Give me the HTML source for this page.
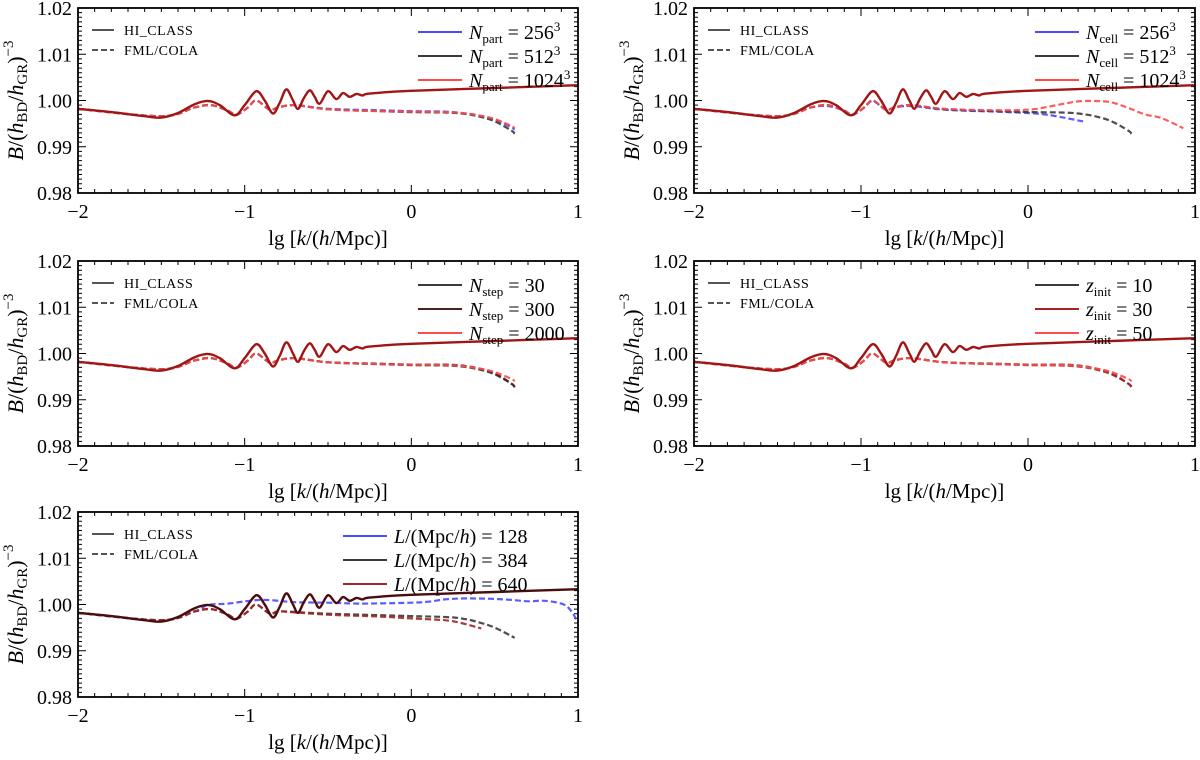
<!DOCTYPE html>
<html><head><meta charset="utf-8"><style>
body{margin:0;background:#fff}
svg text{font-family:"Liberation Serif",serif;fill:#000}
</style></head><body>
<svg id="s" width="1200" height="755" xmlns="http://www.w3.org/2000/svg"></svg>
<script>
const kH=[-2,-1.8,-1.6,-1.5,-1.4,-1.3,-1.22,-1.15,-1.06,-1.0,-0.93,-0.88,-0.83,-0.79,-0.75,-0.71,-0.68,-0.645,-0.61,-0.58,-0.55,-0.5,-0.45,-0.41,-0.37,-0.33,-0.29,-0.25,0,0.5,1];
const vH=[0.9982,0.9975,0.9966,0.9963,0.9973,0.9992,0.9999,0.9990,0.9968,0.9990,1.0020,1.0000,0.9972,0.9995,1.0024,1.0000,0.9982,1.0005,1.0022,1.0008,0.9993,1.0020,1.0003,1.0016,1.0008,1.0014,1.0011,1.0015,1.0021,1.0027,1.0033];
const kD=[-2,-1.5,-1.3,-1.2,-1.1,-1.05,-0.98,-0.93,-0.85,-0.8,-0.7,-0.5,-0.2,0,0.2,0.3,0.4,0.5,0.6,0.62];
const vD=[0.9982,0.9966,0.9985,0.9990,0.9978,0.9969,0.9985,1.0000,0.9980,0.9985,0.9990,0.9981,0.9977,0.9975,0.9974,0.9972,0.9966,0.9955,0.9935,0.9928];
const vD1b=[0.9982,0.9966,0.9985,0.9990,0.9978,0.9969,0.9985,1.0000,0.9980,0.9985,0.9990,0.9982,0.9979,0.9977,0.9976,0.9973,0.9968,0.9959,0.9942,0.9937];
const vD1r=[0.9982,0.9966,0.9985,0.9990,0.9978,0.9969,0.9985,1.0000,0.9980,0.9985,0.9990,0.9981,0.9977,0.9976,0.9975,0.9973,0.9968,0.9960,0.9945,0.9940];
const kB2=[-2,-1.5,-1.3,-1.2,-1.1,-1.05,-0.98,-0.93,-0.85,-0.8,-0.7,-0.5,-0.2,0,0.1,0.2,0.3,0.33];
const vB2=[0.9982,0.9966,0.9985,0.9988,0.9978,0.9969,0.9985,0.9999,0.9980,0.9985,0.9988,0.9980,0.9976,0.9973,0.9970,0.9964,0.9957,0.9955];
const kR2=[-2,-1.5,-1.3,-1.2,-1.1,-1.05,-0.98,-0.93,-0.85,-0.8,-0.7,-0.5,-0.2,0,0.1,0.2,0.3,0.4,0.5,0.6,0.7,0.8,0.93];
const vR2=[0.9982,0.9966,0.9985,0.9990,0.9978,0.9969,0.9985,1.0000,0.9980,0.9985,0.9990,0.9982,0.9979,0.9980,0.9985,0.9992,0.9998,0.9999,0.9996,0.9984,0.9970,0.9962,0.9940];
const vD3b=[0.9982,0.9966,0.9985,0.9990,0.9978,0.9969,0.9985,1.0000,0.9980,0.9985,0.9990,0.9981,0.9978,0.9976,0.9976,0.9974,0.9968,0.9957,0.9935,0.9927];
const kB5=[-2,-1.5,-1.3,-1.22,-1.1,-0.9,-0.7,-0.5,-0.3,0,0.1,0.2,0.3,0.4,0.5,0.6,0.7,0.8,0.9,0.95,1.0];
const vB5=[0.9982,0.9966,0.9985,0.9999,1.0002,1.0010,1.0005,1.0004,1.0002,1.0004,1.0006,1.0011,1.0013,1.0013,1.0012,1.0010,1.0007,1.0008,1.0002,0.9990,0.9962];
const kK5=[-2,-1.5,-1.3,-1.2,-1.1,-1.05,-0.98,-0.93,-0.85,-0.8,-0.7,-0.5,0,0.2,0.3,0.4,0.5,0.62];
const vK5=[0.9982,0.9966,0.9985,0.9990,0.9978,0.9969,0.9985,1.0000,0.9980,0.9985,0.9984,0.9980,0.9975,0.9973,0.9970,0.9962,0.9950,0.9928];
const kR5=[-2,-1.5,-1.3,-1.2,-1.1,-1.05,-0.98,-0.93,-0.85,-0.8,-0.7,-0.5,-0.2,0,0.2,0.3,0.42];
const vR5=[0.9982,0.9966,0.9985,0.9990,0.9978,0.9969,0.9985,1.0000,0.9980,0.9985,0.9983,0.9978,0.9974,0.9970,0.9966,0.9960,0.9948];
const xTicks=[-2,-1,0,1], xTickLabels=["\u22122","\u22121","0","1"];
const yTicks=[0.98,0.99,1.00,1.01,1.02], yTickLabels=["0.98","0.99","1.00","1.01","1.02"];
const BLUE="#4b4bff",BLK="#3a3a3a",RED="#ff4b4b",DRED="#a52525";
const panels=[
 {x0:78,x1:578,y0:8,y1:193,sym:"N",sub:"part",labs:["= 256","= 512","= 1024"],sup:true,cols:[BLUE,BLK,RED],hc:"#a01515",
  ser:[[kD,vD1b,BLUE],[kD,vD,BLK],[kD,vD1r,RED]]},
 {x0:694,x1:1195,y0:8,y1:193,sym:"N",sub:"cell",labs:["= 256","= 512","= 1024"],sup:true,cols:[BLUE,BLK,RED],hc:"#a01515",
  ser:[[kB2,vB2,BLUE],[kD,vD,BLK],[kR2,vR2,RED]]},
 {x0:78,x1:578,y0:261,y1:446,sym:"N",sub:"step",labs:["= 30","= 300","= 2000"],cols:[BLK,"#4a2020",RED],hc:"#a01515",
  ser:[[kD,vD,BLK],[kD,vD3b,"#4a2020"],[kD,vD1r,RED]]},
 {x0:694,x1:1195,y0:261,y1:446,sym:"z",sub:"init",labs:["= 10","= 30","= 50"],cols:[BLK,DRED,RED],hc:"#a01515",
  ser:[[kD,vD3b,BLK],[kD,vD,DRED],[kD,vD1r,RED]]},
 {x0:78,x1:578,y0:512,y1:697,sym:"L",sub:"",labs:["= 128","= 384","= 640"],cols:[BLUE,BLK,DRED],hc:"#4a0c0c",L:true,
  ser:[[kB5,vB5,BLUE],[kK5,vK5,BLK],[kR5,vR5,DRED]]}
];
const S=document.getElementById('s'),NS="http://www.w3.org/2000/svg";
function mk(t,a,p){const e=document.createElementNS(NS,t);for(const k in a)e.setAttribute(k,a[k]);(p||S).appendChild(e);return e;}
function path(pts){let d="M"+pts[0][0].toFixed(1)+","+pts[0][1].toFixed(1);
 for(let i=0;i<pts.length-1;i++){const p0=pts[Math.max(0,i-1)],p1=pts[i],p2=pts[i+1],p3=pts[Math.min(pts.length-1,i+2)];
  d+=" C"+(p1[0]+(p2[0]-p0[0])/6).toFixed(1)+","+(p1[1]+(p2[1]-p0[1])/6).toFixed(1)+" "+(p2[0]-(p3[0]-p1[0])/6).toFixed(1)+","+(p2[1]-(p3[1]-p1[1])/6).toFixed(1)+" "+p2[0].toFixed(1)+","+p2[1].toFixed(1);}
 return d;}
panels.forEach((P,pi)=>{
 const g=mk('g',{});
 
 
 const X=v=>P.x0+(v+2)/3*(P.x1-P.x0), Y=v=>P.y1-(v-0.98)/0.04*(P.y1-P.y0);
 let d="";
 for(let i=0;i<=30;i++){const v=-2+i*0.1,x=X(v),L=(i%10==0)?8:4;d+=`M${x},${P.y1}v${-L}M${x},${P.y0}v${L}`;}
 for(let i=0;i<=40;i++){const v=0.98+i*0.001,y=Y(v),L=(i%10==0)?8:4;d+=`M${P.x0},${y}h${L}M${P.x1},${y}h${-L}`;}
 const tk=mk('path',{d:d,stroke:"#000","stroke-width":1,fill:"none"},g);
 
 
 xTicks.forEach((v,i)=>{const t=mk('text',{x:X(v),y:P.y1+25,"text-anchor":"middle","font-size":20},g);t.textContent=xTickLabels[i];
  
  });
 yTicks.forEach((v,i)=>{const t=mk('text',{x:P.x0-6,y:Y(v)+7,"text-anchor":"end","font-size":20},g);t.textContent=yTickLabels[i];
  
  });
 const xl=mk('text',{x:(P.x0+P.x1)/2,y:P.y1+52,"text-anchor":"middle","font-size":21},g);
 xl.innerHTML='lg [<tspan font-style="italic">k</tspan>/(<tspan font-style="italic">h</tspan>/Mpc)]';
 
 
 const yc=(P.y0+P.y1)/2, yl=mk('text',{x:0,y:0,"text-anchor":"middle","font-size":22,transform:`translate(${P.x0-55},${yc}) rotate(-90)`},g);
 yl.innerHTML='<tspan font-style="italic">B</tspan>/(<tspan font-style="italic">h</tspan><tspan font-size="15" dy="4">BD</tspan><tspan dy="-4">/</tspan><tspan font-style="italic">h</tspan><tspan font-size="15" dy="4">GR</tspan><tspan dy="-4">)</tspan><tspan font-size="15" dy="-10">\u22123</tspan>';
 
 
 P.ser.forEach((s,si)=>{const pts=s[0].map((k,i)=>[X(k),Y(s[1][i])]);
  const e=mk('path',{d:path(pts),stroke:s[2],"stroke-width":2.2,fill:"none","stroke-dasharray":"6,3",opacity:0.9},g);
  
  });
 const hp=kH.map((k,i)=>[X(k),Y(vH[i])]);
 const h=mk('path',{d:path(hp),stroke:P.hc,"stroke-width":2.4,fill:"none"},g);
 
 
 const fr=mk('rect',{x:P.x0,y:P.y0,width:P.x1-P.x0,height:P.y1-P.y0,fill:"none",stroke:"#000","stroke-width":1.8},g);
 
 
 const lg=mk('g',{},g);
 
 
 mk('line',{x1:P.x0+14,x2:P.x0+36,y1:P.y0+22,y2:P.y0+22,stroke:"#555","stroke-width":2},lg);
 mk('line',{x1:P.x0+14,x2:P.x0+36,y1:P.y0+42,y2:P.y0+42,stroke:"#555","stroke-width":2,"stroke-dasharray":"6,3"},lg);
 let t=mk('text',{x:P.x0+46,y:P.y0+27,"font-size":14,"letter-spacing":"0.5"},lg);t.textContent="HI_CLASS";
 t=mk('text',{x:P.x0+46,y:P.y0+47,"font-size":14,"letter-spacing":"0.5"},lg);t.textContent="FML/COLA";
 const rg=mk('g',{},g);
 
 
 P.labs.forEach((lb,i)=>{const yy=P.y0+24+i*24;
  const lx=P.L?P.x1-235:P.x1-160;
  mk('line',{x1:lx,x2:lx+44,y1:yy,y2:yy,stroke:P.cols[i],"stroke-width":2},rg);
  const tt=mk('text',{x:lx+51,y:yy+7,"font-size":20},rg);
  if(P.L) tt.innerHTML='<tspan font-style="italic">L</tspan>/(Mpc/<tspan font-style="italic">h</tspan>) '+lb;
  else tt.innerHTML='<tspan font-style="italic">'+P.sym+'</tspan><tspan font-size="13" dy="4">'+P.sub+'</tspan><tspan dy="-4"> '+lb+'</tspan>'+(P.sup?'<tspan font-size="13" dy="-8">3</tspan>':'');
 });
});
</script>
</body></html>
